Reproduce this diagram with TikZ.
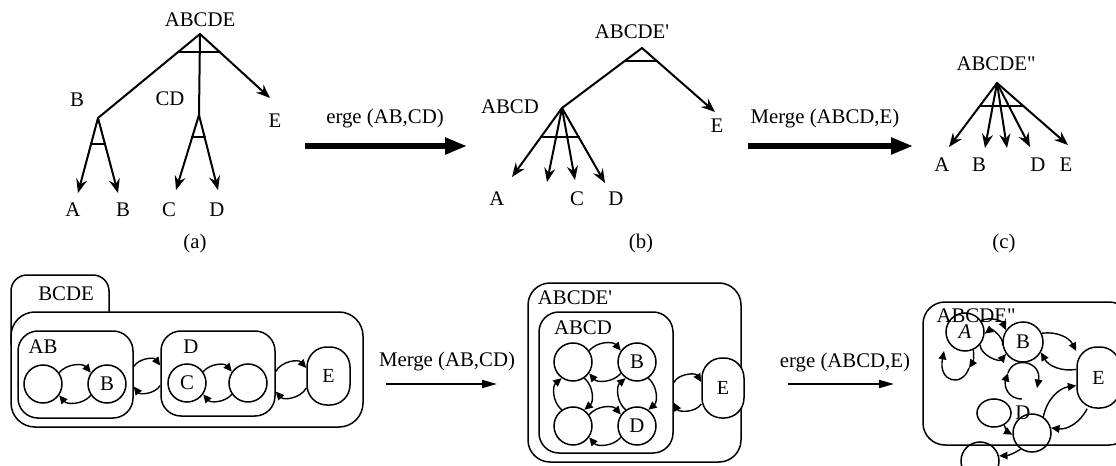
\documentclass[tikz,border=0pt]{standalone}
\usepackage{fontspec}
\setmainfont{Liberation Serif}
\usetikzlibrary{arrows.meta,shapes.geometric}
\tikzset{
  lbl/.style={font=\fontsize{10.4}{12}\selectfont,inner sep=0pt},
  treeline/.style={line width=1pt,line cap=round},
  treearrow/.style={treeline,-{Stealth[length=7pt,width=5.5pt,inset=2.4pt]}},
  bigarrow/.style={line width=2.6pt,-{Triangle[length=11pt,width=8pt]}},
  smallarrow/.style={line width=0.9pt,-{Triangle[length=7.5pt,width=4pt]}},
  box/.style={draw,line width=0.75pt,rounded corners=10pt,inner sep=0pt},
  st/.style={draw,circle,line width=0.75pt,minimum size=19pt,inner sep=0pt,
             font=\fontsize{10.4}{12}\selectfont},
  tr/.style={line width=0.7pt,-{Triangle[length=4.2pt,width=3.8pt]}}
}

\begin{document}
\begin{tikzpicture}[x=0.5pt,y=-0.5pt]
  \clip (0,0) rectangle (1116,466);

  % (a) top tree
  \node[lbl] (topA) at (200,20) {ABCDE};
  \coordinate (rA) at (200,34);
  \coordinate (bA) at (98,118);
  \coordinate (cdA) at (199,115);
  \coordinate (eA) at (270,98);
  \draw[treeline] (rA) -- (bA);
  \draw[treeline] (rA) -- (cdA);
  \draw[treearrow] (rA) -- (eA);
  \draw[treeline] (178,52) -- (220,52);
  \node[lbl] (lbA) at (77,100) {B};
  \node[lbl] (lcdA) at (170,99) {CD};
  \node[lbl] (leA) at (275,121) {E};
  \coordinate (t1A) at (78,193);
  \coordinate (t2A) at (118,193);
  \coordinate (t3A) at (176,190);
  \coordinate (t4A) at (218,190);
  \draw[treearrow] (bA) -- (t1A);
  \draw[treearrow] (bA) -- (t2A);
  \draw[treearrow] (cdA) -- (t3A);
  \draw[treearrow] (cdA) -- (t4A);
  \draw[treeline] (91,144) -- (105,144);
  \draw[treeline] (192,137) -- (205,137);
  \node[lbl] (l1A) at (73,210) {A};
  \node[lbl] (l2A) at (123,210) {B};
  \node[lbl] (l3A) at (169,210) {C};
  \node[lbl] (l4A) at (217,210) {D};
  \node[lbl] (capA) at (195,243) {(a)};

  % merge arrow 1
  \coordinate (m1s) at (305,146);
  \coordinate (m1e) at (467,146);
  \draw[bigarrow] (m1s) -- (m1e);
  \node[lbl] (m1l) at (385,119) {erge (AB,CD)};

  % (b) top tree
  \node[lbl] (topB) at (632,32) {ABCDE\textquotesingle};
  \coordinate (rB) at (642,48);
  \coordinate (abcdB) at (562,108);
  \coordinate (eB) at (715,112);
  \draw[treeline] (rB) -- (abcdB);
  \draw[treearrow] (rB) -- (eB);
  \draw[treeline] (625,61) -- (657,61);
  \node[lbl] (labcdB) at (510,107) {ABCD};
  \node[lbl] (leB) at (717,126) {E};
  \foreach \n/\x/\y in {1/512/177,2/547/182,3/575/180,4/605/183}
    \coordinate (t\n B) at (\x,\y);
  \foreach \n in {1,...,4}
    \draw[treearrow] (abcdB) -- (t\n B);
  \draw[treeline] (541,137) -- (579,137);
  \node[lbl] (l1B) at (497,199) {A};
  \node[lbl] (l3B) at (577,199) {C};
  \node[lbl] (l4B) at (616,199) {D};
  \node[lbl] (capB) at (641,243) {(b)};

  % merge arrow 2
  \coordinate (m2s) at (748,146);
  \coordinate (m2e) at (913,146);
  \draw[bigarrow] (m2s) -- (m2e);
  \node[lbl] (m2l) at (825,119) {Merge (ABCD,E)};

  % (c) top tree
  \node[lbl] (topC) at (996,64) {ABCDE\textquotedbl};
  \coordinate (rC) at (997,83);
  \foreach \n/\x/\y in {1/949/147,2/985/148,3/1007/148,4/1030/147,5/1068/145}
    \coordinate (t\n C) at (\x,\y);
  \foreach \n in {1,...,5}
    \draw[treearrow] (rC) -- (t\n C);
  \draw[treeline] (980,106) -- (1023,106);
  \node[lbl] (l1C) at (942,165) {A};
  \node[lbl] (l2C) at (979,165) {B};
  \node[lbl] (l4C) at (1038,165) {D};
  \node[lbl] (l5C) at (1066,165) {E};
  \node[lbl] (capC) at (1004,243) {(c)};

  % bottom 1
  \draw[line width=0.75pt,rounded corners=8pt] (11,345) -- (11,275) -- (109,275) -- (109,312);
  \node[box,rounded corners=12pt,minimum width=176pt,minimum height=57.5pt] (bcde) at (187,369.5) {};
  \node[lbl] (lbcde) at (66,294) {BCDE};
  \node[box,minimum width=57.5pt,minimum height=43.5pt] (ab) at (75.5,374.5) {};
  \node[lbl] (lab) at (43,347) {AB};
  \node[box,minimum width=57pt,minimum height=42.5pt] (cd) at (218,373.5) {};
  \node[lbl] (lcd) at (191,347) {D};
  \node[box,minimum width=21.5pt,minimum height=29pt] (e1) at (328.5,376) {E};
  \node[st] (a1) at (43,384) {};
  \node[st] (b1) at (107,384) {B};
  \node[st] (c1) at (187,383) {C};
  \node[st] (d1) at (248,383) {};
  \draw[tr] (a1.35) to[bend left=50] (b1.145);
  \draw[tr] (b1.215) to[bend left=50] (a1.325);
  \draw[tr] (c1.35) to[bend left=50] (d1.145);
  \draw[tr] (d1.215) to[bend left=50] (c1.325);
  \draw[tr] ([yshift=4pt]ab.east) to[bend left=55] ([yshift=4pt]cd.west);
  \draw[tr] ([yshift=-6pt]cd.west) to[bend left=55] ([yshift=-6pt]ab.east);
  \draw[tr] ([yshift=1pt]cd.east) to[bend left=55] ([yshift=4pt]e1.west);
  \draw[tr] ([yshift=-6pt]e1.west) to[bend left=55] ([yshift=-9pt]cd.east);

  % merge arrow 3
  \coordinate (m3s) at (386,384);
  \coordinate (m3e) at (497,384);
  \draw[smallarrow] (m3s) -- (m3e);
  \node[lbl] (m3l) at (447,362) {Merge (AB,CD)};

  % bottom 2
  \node[box,rounded corners=11pt,minimum width=106.5pt,minimum height=89.5pt] (abcde2) at (634.5,372.5) {};
  \node[lbl] (labcde2) at (575,298) {ABCDE\textquotesingle};
  \node[box,minimum width=67pt,minimum height=70.5pt] (abcd2) at (606,382.5) {};
  \node[lbl] (labcd2) at (583,328) {ABCD};
  \node[box,fill=white,minimum width=21pt,minimum height=30pt] (e2) at (723,388) {E};
  \node[st] (a2) at (573,362) {};
  \node[st] (b2) at (637,362) {B};
  \node[st] (c2) at (573,426) {};
  \node[st] (d2) at (637,426) {D};
  \draw[tr] (a2.35) to[bend left=50] (b2.145);
  \draw[tr] (b2.215) to[bend left=50] (a2.325);
  \draw[tr] (c2.35) to[bend left=50] (d2.145);
  \draw[tr] (d2.215) to[bend left=50] (c2.325);
  \draw[tr] (b2.305) to[bend left=50] (d2.55);
  \draw[tr] (d2.125) to[bend left=50] (b2.235);
  \draw[tr] (a2.305) to[bend left=50] (c2.55);
  \draw[tr] (c2.125) to[bend left=50] (a2.235);
  \draw[tr] (abcd2.east) to[bend left=60] ([yshift=3pt]e2.west);
  \draw[tr] ([yshift=-8pt]e2.west) to[bend left=60] ([yshift=-10pt]abcd2.east);

  % merge arrow 4
  \coordinate (m4s) at (788,384);
  \coordinate (m4e) at (894,384);
  \draw[smallarrow] (m4s) -- (m4e);
  \node[lbl] (m4l) at (845,363) {erge (ABCD,E)};

  % bottom 3
  \node[box,rounded corners=11pt,minimum width=104pt,minimum height=71.5pt] (abcde3) at (1027,373.5) {};
  \node[st] (a3) at (965,332) {\textit{A}};
  \node[st,minimum size=20pt] (b3) at (1023,342) {B};
  \node[box,fill=white,minimum width=21.5pt,minimum height=30.5pt] (e3) at (1098.5,377.5) {E};
  \node[st,ellipse,minimum width=17pt,minimum height=14pt] (x3) at (994,413) {};
  \node[st] (d3) at (1032,433) {};
  \node[st] (f3) at (980,461) {};
  \node[lbl] (ld3) at (1023,413) {D};
  \node[lbl] (labcde3) at (976,316) {ABCDE\textquotedbl};
  \draw[tr] (a3.35) to[bend left=45] (b3.145);
  \draw[tr] (b3.190) to[bend right=70] (a3.-5);
  \draw[tr] (a3.-40) to[bend right=70] (b3.215);
  \coordinate (la1) at (969,368);
  \coordinate (la2) at (944,351);
  \draw[tr] (a3.-65) to[bend left=20] (la1);
  \draw[tr] (la1) .. controls (962,388) and (938,382) .. (la2);
  \coordinate (lb1) at (1022,399);
  \coordinate (lb2) at (1008,373);
  \coordinate (lb3) at (1037,388);
  \draw[tr] (lb1) .. controls (1007,399) and (1004,385) .. (lb2);
  \draw[tr] (lb2) .. controls (1014,355) and (1042,362) .. (lb3);
  \draw[tr] (b3.25) to[bend left=35] (e3.130);
  \draw[tr] (e3.160) to[bend left=35] (b3.-30);
  \draw[tr] (d3.55) to[bend left=35] (e3.200);
  \draw[tr] (e3.250) to[bend left=35] (d3.15);
  \draw[tr] (x3.-50) to[bend right=20] (d3.185);
  \draw[tr] (d3.235) to[bend left=15] (f3.15);
\end{tikzpicture}
\end{document}
